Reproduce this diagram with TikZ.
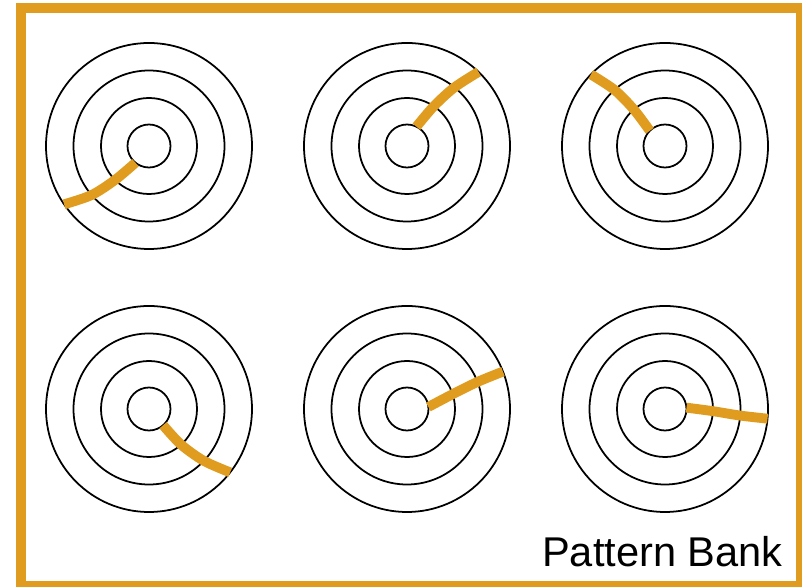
\documentclass[tikz,border=0pt]{standalone}
\usepackage{fontspec}
\setsansfont{Liberation Sans}
\definecolor{bankorange}{RGB}{224,156,30}

\begin{document}
\begin{tikzpicture}[x=0.03cm,y=0.03cm,
  ring/.style={line width=1.5pt},
  trace/.style={bankorange,line width=8.4pt},
  frame/.style={bankorange,line width=7.8pt}]
  \useasboundingbox (0,0) rectangle (802,587);
  \draw[frame] (21,579) rectangle (801,1);
  % centres of the six targets
  \coordinate (tl) at (149,441);
  \coordinate (tm) at (407,441);
  \coordinate (tr) at (665,441);
  \coordinate (bl) at (149,178);
  \coordinate (bm) at (407,178);
  \coordinate (br) at (665,178);
  \foreach \c in {tl,tm,tr,bl,bm,br}
    \foreach \r in {21.5,48,75.5,103}
      \draw[ring] (\c) circle (\r);
  % one trace per target
  \draw[trace,shift={(tl)}] plot[smooth] coordinates {(231:21.5) (225:48) (220.5:75.5) (214.5:103)};
  \draw[trace,shift={(tm)}] plot[smooth] coordinates {(64:21.5) (56:48) (51:75.5) (46:103)};
  \draw[trace,shift={(tr)}] plot[smooth] coordinates {(135:21.5) (130.5:48) (132:75.5) (136:103)};
  \draw[trace,shift={(bl)}] plot[smooth] coordinates {(-49:21.5) (-48:48) (-43.4:75.5) (-38:103)};
  \draw[trace,shift={(bm)}] plot[smooth] coordinates {(5.5:21.5) (18:48) (21:75.5) (21.3:103)};
  \draw[trace,shift={(br)}] plot[smooth] coordinates {(3.6:21.5) (-2.6:48) (-5:75.5) (-5.4:103)};
  \node[font=\sffamily\fontsize{35.5}{42}\selectfont,anchor=base west,inner sep=0pt] (label) at (542,20.5) {Pattern Bank};
\end{tikzpicture}
\end{document}
